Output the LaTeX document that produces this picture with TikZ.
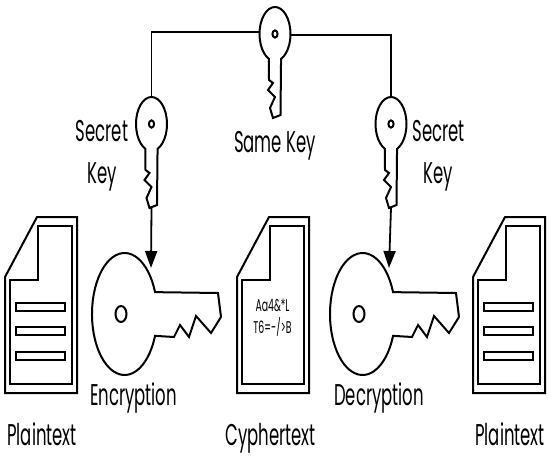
\documentclass[tikz,border=0pt]{standalone}
\usepackage{fontspec}
\setmainfont[FakeStretch=0.55]{Poppins}
\usepackage{tikz}
\usetikzlibrary{arrows.meta}

\begin{document}
\begin{tikzpicture}[
        x=1pt, y=1pt,
        outline/.style={draw=black, line width=2pt, line join=miter},
        link/.style={draw=black, line width=1.8pt},
        arrow/.style={link, -{Triangle[length=17pt, width=12pt]}},
        label/.style={font=\fontsize{30}{30}\selectfont, anchor=base, inner sep=0pt},
        cipher/.style={font=\fontsize{17}{17}\selectfont, anchor=base, inner sep=0pt},
        smallkey/.pic={
            \draw[outline] (-67:15.5 and 27) arc[start angle=-67, end angle=247, x radius=15.5, y radius=27]
                -- (-6,-46) -- (-2,-49) -- (-7,-56) -- (0,-63) -- (-5,-74) -- (-2,-84) -- (5.5,-81) -- cycle;
            \draw[outline] (0,0) ellipse[x radius=2.6, y radius=3.6];
            \coordinate (-left) at (-15.5,2);
            \coordinate (-right) at (15.5,-1);
            \coordinate (-top) at (0,27);
            \coordinate (-bottom) at (0,-84);
        },
        bigkey/.pic={
            \draw[outline] (21:32.6 and 61) arc[start angle=21, end angle=339, x radius=32.6, y radius=61]
                -- (49.4,-23) -- (55.4,-11) -- (64.4,-23) -- (71.4,-2) -- (86.4,-19) -- (96.4,-3) -- (93.4,21) -- cycle;
            \draw[outline] (-3.6,0) ellipse[x radius=5.5, y radius=8];
            \coordinate (-tip) at (26.4,46);
        },
        docpage/.pic={
            \draw[outline] (0,-60) -- (32,0) -- (72,0) -- (72,-176) -- (0,-176) -- cycle;
            \draw[outline] (5,-63) -- (33,-63) -- (33,-9) -- (67,-9) -- (67,-167) -- (5,-167) -- cycle;
        },
        textbars/.pic={
            \foreach \y in {-86,-110,-134.5} {
                \draw[outline] (11,\y) rectangle (60,\y-8);
            }
        }
    ]
    \useasboundingbox (0,0) rectangle (552,-460);

    % Keys on top
    \pic (keyTop) at (275,-34) {smallkey};
    \pic (keyEnc) at (151.5,-124) {smallkey};
    \pic (keyDec) at (391,-124) {smallkey};

    % Big keys
    \pic (bigEnc) at (124.6,-314) {bigkey};
    \pic (bigDec) at (362.6,-314) {bigkey};

    % Pages
    \foreach \n/\x in {plainL/5, cypher/237, plainR/473} {
        \pic (\n) at (\x,-217) {docpage};
    }
    \pic (barsL) at (5,-217) {textbars};
    \pic (barsR) at (473,-217) {textbars};
    \node[cipher] (cipherA) at (272.5,-311) {Aa4\&*L};
    \node[cipher] (cipherB) at (272.5,-333) {T6=-/>B};

    % Connectors
    \draw[link] (keyTop-left) -| (keyEnc-top);
    \draw[link] (keyTop-right) -| (keyDec-top);
    \draw[arrow] (keyEnc-bottom) -- (bigEnc-tip);
    \draw[arrow] (keyDec-bottom) -- (bigDec-tip);

    % Labels
    \node[label] (secretL) at (102,-142) {Secret};
    \node[label] (keyL) at (102,-183) {Key};
    \node[label] (same) at (275,-152) {Same Key};
    \node[label] (secretR) at (438.5,-142) {Secret};
    \node[label] (keyR) at (438.5,-183) {Key};
    \node[label] (encryption) at (133.5,-405) {Encryption};
    \node[label] (decryption) at (379,-405) {Decryption};
    \node[label] (plainTextL) at (42,-445) {Plaintext};
    \node[label] (cypherText) at (270.5,-445) {Cyphertext};
    \node[label] (plainTextR) at (510,-445) {Plaintext};
\end{tikzpicture}
\end{document}
